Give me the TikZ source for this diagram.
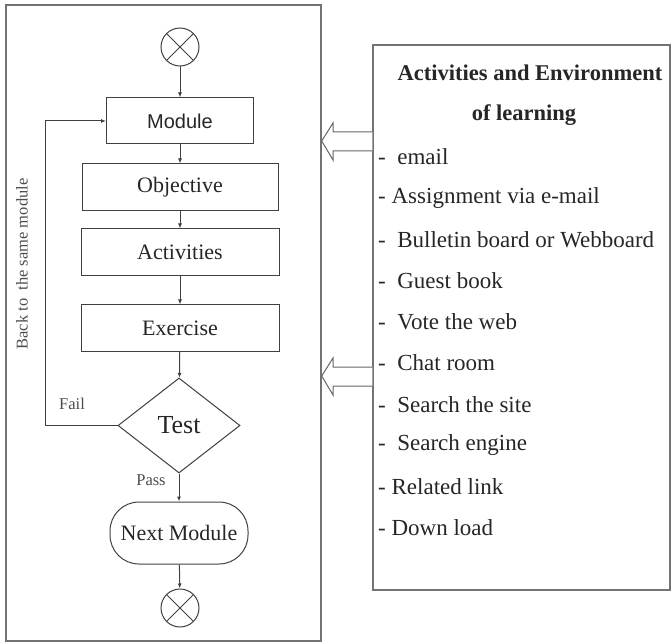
\documentclass[tikz,border=0pt]{standalone}
\usepackage{fontspec}
\setmainfont{Liberation Serif}
\newfontfamily\boxsans{Liberation Sans}
\usepackage{tikz}
\usetikzlibrary{arrows.meta}
\usetikzlibrary{shapes.geometric}
\begin{document}
\begin{tikzpicture}[
        x=1pt,y=-1pt,
        panelline/.style={line width=1.4pt,draw=black!55},
        flowline/.style={line width=1pt,draw=black!75},
        flowbox/.style={flowline,rectangle,inner sep=0pt,
                        font={\fontsize{22}{26}\selectfont},text=black!85},
        decision/.style={flowline,diamond,aspect=1.3,inner sep=0pt,
                         minimum width=122pt,minimum height=95pt,
                         font={\fontsize{26}{30}\selectfont},text=black!85},
        terminal/.style={flowbox,rounded corners=29pt,
                         minimum width=138pt,minimum height=62pt},
        endpoint/.style={flowline,circle,minimum size=38pt,inner sep=0pt},
        flowarrow/.style={flowline,-{Latex[length=5pt,width=4pt]}},
        hollowarrow/.style={line width=1pt,draw=black!60,fill=white},
        smalllabel/.style={font={\fontsize{16.5}{19}\selectfont},text=black!70,inner sep=0pt},
        listitem/.style={anchor=west,inner sep=0pt,
                         font={\fontsize{23}{27}\selectfont},text=black!85},
      ]
      \useasboundingbox (0,0) rectangle (672,644);
      % Panels
      \node[panelline,draw,rectangle,minimum width=315pt,minimum height=636pt] (flowpanel) at (163.5,323) {};
      \node[panelline,draw,rectangle,minimum width=297pt,minimum height=545pt] (envbox) at (521.5,317.5) {};
      % Flowchart
      \node[endpoint] (start) at (180,47) {};
      \node[flowbox,minimum width=147pt,minimum height=46pt,font={\boxsans\fontsize{20}{24}\selectfont}] (module) at (180,121) {Module};
      \node[flowbox,minimum width=196pt,minimum height=47pt] (objective) at (180,187.5) {Objective};
      \node[flowbox,minimum width=198pt,minimum height=47pt] (activities) at (180,252.5) {Activities};
      \node[flowbox,minimum width=198pt,minimum height=46pt] (exercise) at (180,328) {Exercise};
      \node[decision] (test) at (179,425.5) {Test};
      \node[terminal] (nextmodule) at (179,533) {Next Module};
      \node[endpoint] (stop) at (180,608) {};
      \foreach \s in {start,stop}{
        \draw[flowline] (\s.north west) -- (\s.south east);
        \draw[flowline] (\s.north east) -- (\s.south west);
      }
      \draw[flowarrow] (start) -- (module);
      \draw[flowarrow] (module) -- (objective);
      \draw[flowarrow] (objective) -- (activities);
      \draw[flowarrow] (activities) -- (exercise);
      \draw[flowarrow] (exercise) -- (test);
      \draw[flowarrow] (test) -- (nextmodule);
      \draw[flowarrow] (nextmodule) -- (stop);
      % Back loop
      \coordinate (loopcorner) at (45,425.5);
      \draw[flowarrow] (test.west) -- (loopcorner) |- (module.west);
      \node[smalllabel] (fail) at (72,404) {Fail};
      \node[smalllabel] (pass) at (151,480) {Pass};
      \node[smalllabel,rotate=90] (backlabel) at (22,264) {Back to\ \ the same module};
      % Hollow arrows
      \foreach \ay in {141,376}{
        \draw[hollowarrow] (envbox.west |- 0,\ay-9) -- (333,\ay-9) -- (333,\ay-18)
          -- (flowpanel.east |- 0,\ay) -- (333,\ay+19) -- (333,\ay+10)
          -- (envbox.west |- 0,\ay+10);
      }
      % Activities and environment
      \node[inner sep=0pt,font={\bfseries\fontsize{22.5}{26}\selectfont},text=black!85] (envtitle) at (530,73) {Activities and Environment};
      \node[inner sep=0pt,font={\bfseries\fontsize{22.5}{26}\selectfont},text=black!85] (envtitle2) at (524,115) {of learning};
      \foreach \txt [count=\i] in {-\ \ email,- Assignment via e-mail,-\ \ Bulletin board or Webboard,
          -\ \ Guest book,-\ \ Vote the web,-\ \ Chat room,-\ \ Search the site,
          -\ \ Search engine,- Related link,- Down load}{
        \pgfmathsetmacro\iy{157+41.2*(\i-1)}
        \node[listitem] (item\i) at (378,\iy) {\txt};
      }
    \end{tikzpicture}
\end{document}
